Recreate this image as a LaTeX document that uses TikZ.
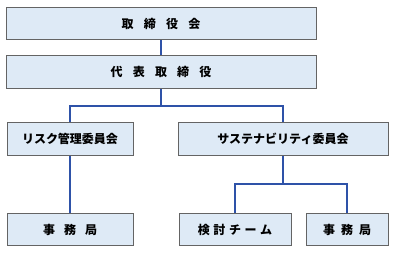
\documentclass[tikz,border=0pt]{standalone}
\usepackage{fontspec}
\setmainfont{Noto Sans CJK JP}
\usepackage{tikz}
\usetikzlibrary{positioning,calc}
\definecolor{orgFill}{RGB}{222,234,246}
\definecolor{orgEdge}{RGB}{100,100,100}
\definecolor{orgLink}{RGB}{46,82,168}

\begin{document}
\begin{tikzpicture}[
					x=1pt,y=-1pt,
					box/.style={
						draw=orgEdge,
						line width=0.9pt,
						fill=orgFill,
						inner sep=0pt,
						minimum height=32.5pt,
						align=center,
						font=\fontsize{12}{14}\selectfont\bfseries
					},
					link/.style={draw=orgLink,line width=1.6pt}
					]
					\useasboundingbox (0,0) rectangle (394,253);
					\node[box,minimum width=310pt](board) at (161,23.5){取\hspace{0.85em}締\hspace{0.85em}役\hspace{0.85em}会};
					\node[box,minimum width=310pt](ceo) at (161,72){代\hspace{0.85em}表\hspace{0.85em}取\hspace{0.85em}締\hspace{0.85em}役};
					\node[box,minimum width=126pt](risk) at (70,139){リスク管理委員会};
					\node[box,minimum width=210pt](sus) at (283,139){サステナビリティ委員会};
					\node[box,minimum width=126pt](office1) at (70,229.5){事\hspace{0.75em}務\hspace{0.75em}局};
					\node[box,minimum width=112pt](team) at (235,229.5){検\hspace{0.3em}討\hspace{0.3em}チ\hspace{0.3em}ー\hspace{0.3em}ム};
					\node[box,minimum width=82pt](office2) at (347,229.5){事\hspace{0.5em}務\hspace{0.5em}局};
					
					\coordinate (j1) at (161,106);
					\coordinate (j2) at (283,184);
					\draw[link] (board.south) -- (ceo.north);
					\draw[link] (ceo.south) -- (j1) -| (risk.north);
					\draw[link] (j1) -| (sus.north);
					\draw[link] (risk.south) -- (office1.north);
					\draw[link] (sus.south) -- (j2) -| (team.north);
					\draw[link] (j2) -| (office2.north);
					
				\end{tikzpicture}
\end{document}
